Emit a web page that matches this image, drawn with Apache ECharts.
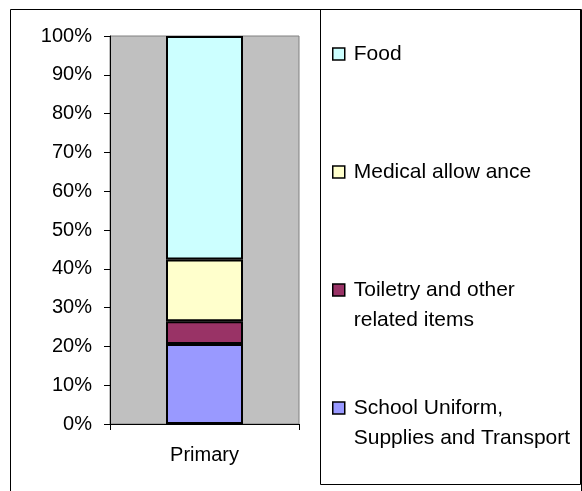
<!DOCTYPE html>
<html>
<head>
<meta charset="utf-8">
<script src="https://cdn.jsdelivr.net/npm/echarts@6/dist/echarts.min.js"></script>
<style>
html,body{margin:0;padding:0;background:#fff;}
#chart{width:582px;height:491px;}
</style>
</head>
<body>
<div id="chart"></div>
<script>
var categories = ['Primary'];
var seriesNames = ['School Uniform, Supplies and Transport', 'Toiletry and other related items', 'Medical allow ance', 'Food'];
var legendLabels = {
  'Food': 'Food',
  'Medical allow ance': 'Medical allow ance',
  'Toiletry and other related items': 'Toiletry and other\nrelated items',
  'School Uniform, Supplies and Transport': 'School Uniform,\nSupplies and Transport'
};
var schoolValues = [20.6];
var toiletryValues = [5.9];
var medicalValues = [15.9];
var foodValues = [57.6];
var yTicks = [0, 10, 20, 30, 40, 50, 60, 70, 80, 90, 100];

var colors = ['#9999ff', '#993366', '#ffffcc', '#ccffff'];
var valuesList = [schoolValues, toiletryValues, medicalValues, foodValues];
var FONT = 'Arial, "Liberation Sans", sans-serif';

var chart = echarts.init(document.getElementById('chart'), null, {renderer: 'canvas'});
var option = {
  animation: false,
  backgroundColor: '#ffffff',
  graphic: [
    {type: 'rect', shape: {x: 10.5, y: 9.5, width: 571, height: 520}, style: {fill: 'none', stroke: '#000', lineWidth: 1}, silent: true, z: -1},
    {type: 'rect', shape: {x: 320.5, y: 9.5, width: 260, height: 475}, style: {fill: 'none', stroke: '#000', lineWidth: 1}, silent: true, z: -1}
  ],
  grid: {
    left: 110, top: 36, right: 283, bottom: 67,
    show: true, backgroundColor: '#c0c0c0', borderColor: '#808080', borderWidth: 1
  },
  legend: {
    orient: 'vertical',
    left: 332, top: 9,
    padding: 0,
    itemGap: 28,
    itemWidth: 12, itemHeight: 12,
    icon: 'rect',
    data: ['Food', 'Medical allow ance', 'Toiletry and other related items', 'School Uniform, Supplies and Transport'],
    formatter: function (name) {
      var t = legendLabels[name];
      return t.indexOf('\n') >= 0 ? '\n' + t : '\n' + t + '\n';
    },
    textStyle: {fontFamily: FONT, fontSize: 21, color: '#000', lineHeight: 30, padding: [0, 0, 0, 4]},
    itemStyle: {borderColor: '#000', borderWidth: 1.5}
  },
  xAxis: {
    type: 'category',
    data: categories,
    axisLine: {lineStyle: {color: '#000', width: 1}},
    axisTick: {show: true, alignWithLabel: false, length: 6, lineStyle: {color: '#000'}},
    axisLabel: {fontFamily: FONT, fontSize: 20, color: '#000', margin: 21}
  },
  yAxis: {
    type: 'value',
    min: 0, max: 100, interval: 10,
    axisLine: {show: true, lineStyle: {color: '#000', width: 1}},
    axisTick: {show: true, length: 6, lineStyle: {color: '#000'}},
    splitLine: {show: false},
    axisLabel: {
      fontFamily: FONT, fontSize: 20, color: '#000', margin: 18,
      formatter: function (v) { return yTicks.indexOf(v) >= 0 ? v + '%' : ''; }
    }
  },
  series: seriesNames.map(function (n, i) {
    return {
      name: n,
      type: 'bar',
      stack: 'total',
      barWidth: 77,
      data: valuesList[i],
      itemStyle: {color: colors[i], borderColor: '#000', borderWidth: 2}
    };
  })
};
chart.setOption(option);
</script>
</body>
</html>
